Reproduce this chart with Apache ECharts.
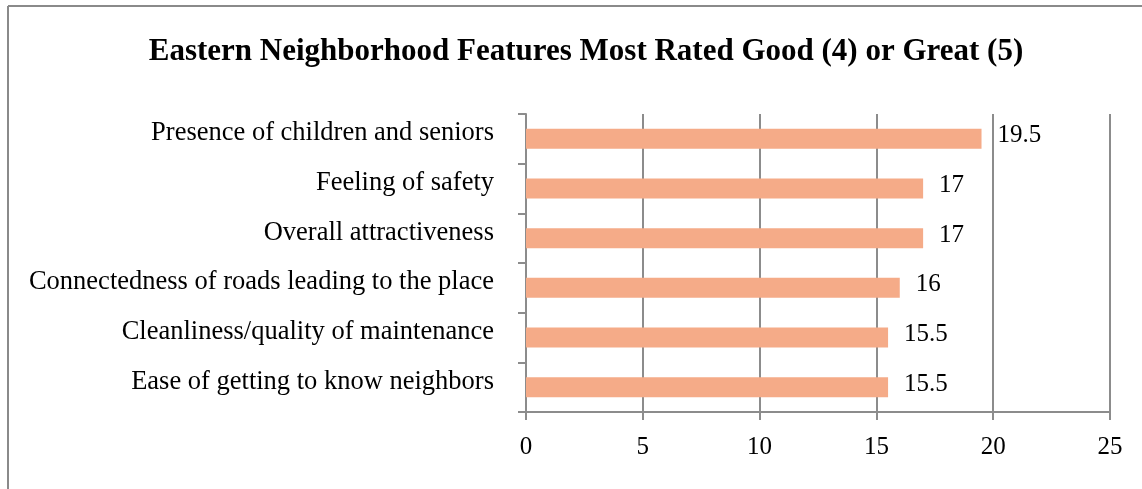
<!DOCTYPE html>
<html>
<head>
<meta charset="utf-8">
<script src="https://cdn.jsdelivr.net/npm/echarts@6/dist/echarts.min.js"></script>
<style>
  html, body { margin: 0; padding: 0; background: #fff; }
  #chart { width: 1142px; height: 489px; }
</style>
</head>
<body>
<div id="chart"></div>
<script>
// Neighborhood features, listed top to bottom
const features = [
  'Presence of children and seniors',
  'Feeling of safety',
  'Overall attractiveness',
  'Connectedness of roads leading to the place',
  'Cleanliness/quality of maintenance',
  'Ease of getting to know neighbors'
];
const ratings = [19.5, 17, 17, 16, 15.5, 15.5];
const titleText = 'Eastern Neighborhood Features Most Rated Good (4) or Great (5)';

const serif = '"Liberation Serif", "DejaVu Serif", serif';
const gray = '#8c8c8c';

const chart = echarts.init(document.getElementById('chart'), null, { renderer: 'canvas' });
chart.setOption({
  animation: false,
  backgroundColor: '#ffffff',
  graphic: [
    { type: 'line', shape: { x1: 8, y1: 6, x2: 8, y2: 489 }, style: { stroke: '#8a8a8a', lineWidth: 2 } },
    { type: 'line', shape: { x1: 8, y1: 6, x2: 1142, y2: 6 }, style: { stroke: '#8a8a8a', lineWidth: 2 } }
  ],
  title: {
    text: titleText,
    left: 581,
    textAlign: 'center',
    top: 31,
    textStyle: { fontFamily: serif, fontWeight: 'bold', fontSize: 31, color: '#000' }
  },
  grid: { left: 526, right: 32, top: 114, bottom: 77, containLabel: false },
  xAxis: {
    type: 'value',
    min: 0, max: 25, interval: 5,
    axisLine: { show: true, lineStyle: { color: gray, width: 2 } },
    axisTick: { show: true, length: 8, lineStyle: { color: gray, width: 2 } },
    splitLine: { show: true, lineStyle: { color: gray, width: 2 } },
    axisLabel: { margin: 23, fontFamily: serif, fontSize: 25, color: '#000' }
  },
  yAxis: {
    type: 'category',
    inverse: true,
    data: features,
    axisLine: { show: true, lineStyle: { color: gray, width: 2 } },
    axisTick: { show: true, length: 8, lineStyle: { color: gray, width: 2 } },
    axisLabel: {
      margin: 32, fontFamily: serif, fontSize: 26.5, color: '#000',
      verticalAlign: 'bottom', lineHeight: 11
    }
  },
  series: [{
    type: 'bar',
    data: ratings,
    barWidth: 20,
    itemStyle: { color: '#f5ab88' },
    label: {
      show: true,
      position: 'right',
      distance: 16,
      offset: [0, -3],
      fontFamily: serif,
      fontSize: 25,
      color: '#000'
    }
  }]
});
</script>
</body>
</html>
